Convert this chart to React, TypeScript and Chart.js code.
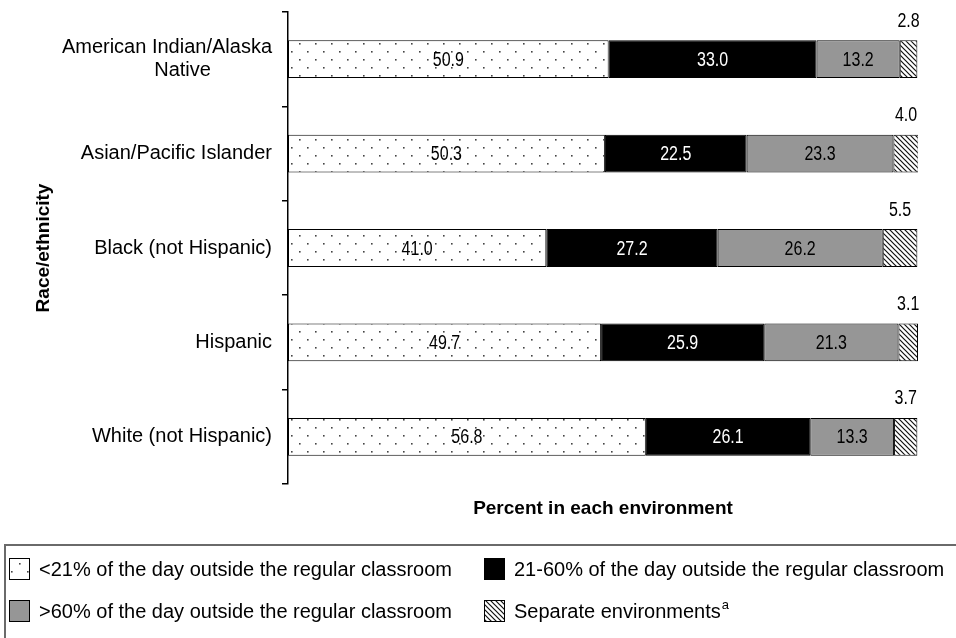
import React, { useEffect, useRef } from "react";
import { Chart, registerables } from "chart.js";

Chart.register(...registerables);

const categories: (string | string[])[] = [
  ["American Indian/Alaska", "Native" + "\u00a0".repeat(11)],
  "Asian/Pacific Islander",
  "Black (not Hispanic)",
  "Hispanic",
  "White (not Hispanic)",
];

const seriesNames = [
  "<21% of the day outside the regular classroom",
  "21-60% of the day outside the regular classroom",
  ">60% of the day outside the regular classroom",
  "Separate environments",
];

const lessThan21 = [50.9, 50.3, 41.0, 49.7, 56.8];
const from21to60 = [33.0, 22.5, 27.2, 25.9, 26.1];
const moreThan60 = [13.2, 23.3, 26.2, 21.3, 13.3];
const separate = [2.8, 4.0, 5.5, 3.1, 3.7];

const xAxisTitle = "Percent in each environment";
const yAxisTitle = "Race/ethnicity";

const FONT = "'Liberation Sans', Arial, Helvetica, sans-serif";

function makeDots(): CanvasPattern | string {
  const c = document.createElement("canvas");
  c.width = 16;
  c.height = 16;
  const g = c.getContext("2d");
  if (!g) return "#fff";
  g.fillStyle = "#ffffff";
  g.fillRect(0, 0, 16, 16);
  g.fillStyle = "#444444";
  g.fillRect(3, 3, 1.6, 1.6);
  g.fillRect(11, 11, 1.6, 1.6);
  return g.createPattern(c, "repeat") || "#fff";
}

function makeHatch(): CanvasPattern | string {
  const s = 5;
  const c = document.createElement("canvas");
  c.width = s;
  c.height = s;
  const g = c.getContext("2d");
  if (!g) return "#fff";
  g.fillStyle = "#ffffff";
  g.fillRect(0, 0, s, s);
  g.strokeStyle = "#111111";
  g.lineWidth = 1.2;
  g.beginPath();
  g.moveTo(-1, -1);
  g.lineTo(s + 1, s + 1);
  g.moveTo(-1, s - 1);
  g.lineTo(1, s + 1);
  g.moveTo(s - 1, -1);
  g.lineTo(s + 1, 1);
  g.stroke();
  return g.createPattern(c, "repeat") || "#fff";
}

export default function App() {
  const ref = useRef<HTMLCanvasElement | null>(null);

  useEffect(() => {
    const canvas = ref.current;
    if (!canvas) return;
    const dots = makeDots();
    const hatch = makeHatch();
    const gray = "#969696";
    const fills = [dots, "#000000", gray, hatch];
    const labelColors = ["#000", "#fff", "#000", "#000"];
    const values = [lessThan21, from21to60, moreThan60, separate];

    const dataLabels = {
      id: "dataLabels",
      afterDatasetsDraw(chart: any) {
        const ctx = chart.ctx;
        ctx.save();
        ctx.font = `20px ${FONT}`;
        ctx.textAlign = "center";
        ctx.textBaseline = "middle";
        chart.data.datasets.forEach((ds: any, di: number) => {
          const meta = chart.getDatasetMeta(di);
          meta.data.forEach((bar: any, i: number) => {
            const p = bar.getProps(["x", "base", "y", "height"], true);
            const cx = (p.x + p.base) / 2;
            let cy = p.y + 1;
            if (di === 3) cy = p.y - p.height / 2 - 19;
            ctx.save();
            ctx.translate(cx, cy);
            ctx.scale(0.8, 1);
            ctx.fillStyle = labelColors[di];
            ctx.fillText(Number(ds.data[i]).toFixed(1), 0, 0);
            ctx.restore();
          });
        });
        ctx.restore();
      },
    };

    const customLegend = {
      id: "customLegend",
      afterDraw(chart: any) {
        const ctx = chart.ctx;
        const top = chart.scales.x.bottom + 21;
        ctx.save();
        ctx.strokeStyle = "#6a6a6a";
        ctx.lineWidth = 2;
        ctx.strokeRect(5, top, chart.width + 10, chart.height);
        ctx.font = `20px ${FONT}`;
        ctx.textBaseline = "middle";
        ctx.textAlign = "left";
        const rows = [
          [0, 1],
          [2, 3],
        ];
        const colX = [9, 484];
        rows.forEach((row, r) => {
          const boxTop = top + 13 + r * 42;
          row.forEach((di, c) => {
            const x = colX[c];
            ctx.fillStyle = fills[di];
            ctx.fillRect(x, boxTop, 21, 22);
            ctx.strokeStyle = "#000";
            ctx.lineWidth = 1;
            ctx.strokeRect(x + 0.5, boxTop + 0.5, 20, 21);
            const tx = x + 30;
            const ty = boxTop + 12;
            ctx.fillStyle = "#000";
            const text = seriesNames[di];
            ctx.fillText(text, tx, ty);
            const w = ctx.measureText(text).width;
            if (di === 3) {
              ctx.save();
              ctx.font = `13px ${FONT}`;
              ctx.fillText("a", tx + w + 1, ty - 7);
              ctx.restore();
            }
          });
        });
        ctx.restore();
      },
    };

    const chart = new Chart(canvas, {
      type: "bar",
      data: {
        labels: categories,
        datasets: values.map((v, di) => ({
          label: seriesNames[di],
          data: v,
          backgroundColor: fills[di] as any,
          borderColor: "#000000",
          borderWidth: 1,
          borderSkipped: false,
          barPercentage: 0.4,
          categoryPercentage: 1,
        })),
      },
      options: {
        indexAxis: "y",
        responsive: false,
        animation: false,
        layout: { padding: { top: 12, right: 38, left: 0, bottom: 114 } },
        plugins: {
          legend: { display: false },
          tooltip: { enabled: false },
        },
        scales: {
          x: {
            stacked: true,
            min: 0,
            max: 100,
            grid: { display: false },
            border: { display: false },
            ticks: { display: false },
            title: {
              display: true,
              text: xAxisTitle,
              color: "#000",
              font: { family: FONT, size: 19, weight: "bold" },
              padding: { top: 0, bottom: 3.6 },
            },
            afterFit(scale: any) {
              scale.height = 40;
              scale.paddingLeft = 0;
              scale.paddingRight = 0;
            },
          },
          y: {
            stacked: true,
            offset: true,
            grid: {
              display: true,
              drawOnChartArea: false,
              drawTicks: true,
              tickLength: 6,
              offset: true,
              color: "#000",
              lineWidth: 1.5,
            },
            border: { display: true, color: "#000", width: 1.5 },
            ticks: {
              color: "#000",
              padding: 10,
              font: { family: FONT, size: 20, lineHeight: 1.15 },
            },
            title: {
              display: true,
              text: yAxisTitle,
              color: "#000",
              font: { family: FONT, size: 19, weight: "bold" },
              padding: { top: 32.6, bottom: 0 },
            },
            afterFit(scale: any) {
              scale.width = 288;
              scale.paddingTop = 0;
              scale.paddingBottom = 0;
            },
          },
        },
      },
      plugins: [dataLabels, customLegend],
    });

    return () => chart.destroy();
  }, []);

  return (
    <div style={{ position: "absolute", left: 0, top: 0, width: 956, height: 638, background: "#fff" }}>
      <canvas ref={ref} width={956} height={638} style={{ display: "block" }} />
    </div>
  );
}
